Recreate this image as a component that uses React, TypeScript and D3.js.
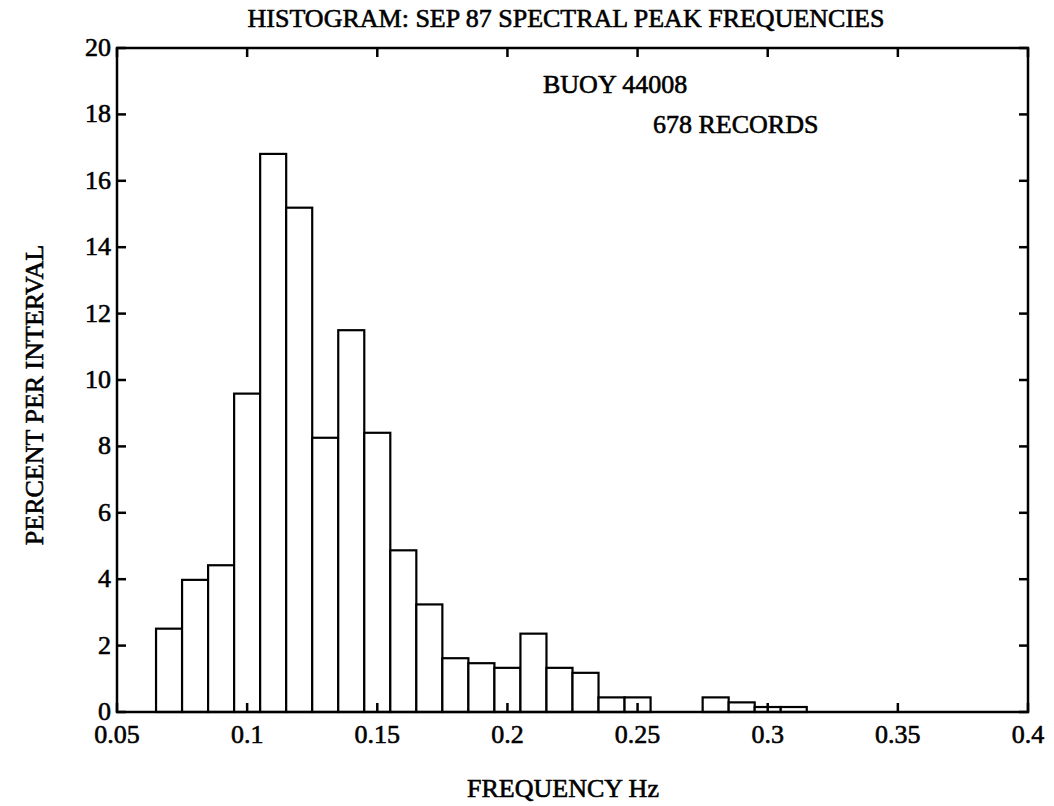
import { useEffect, useRef } from "react";
import * as d3 from "d3";

// bin centres (Hz), bins are 0.01 Hz wide
const binCenters = [
  0.07, 0.08, 0.09, 0.1, 0.11, 0.12, 0.13, 0.14, 0.15, 0.16, 0.17, 0.18, 0.19, 0.2, 0.21, 0.22,
  0.23, 0.24, 0.25, 0.26, 0.27, 0.28, 0.29, 0.3, 0.31,
];
// percent per interval
const percents = [
  2.51, 3.98, 4.42, 9.59, 16.81, 15.19, 8.26, 11.5, 8.41, 4.87, 3.24, 1.62, 1.47, 1.33, 2.36, 1.33,
  1.18, 0.44, 0.44, 0, 0, 0.44, 0.29, 0.15, 0.15,
];
const xTicks = [0.05, 0.1, 0.15, 0.2, 0.25, 0.3, 0.35, 0.4];
const xTickLabels = ["0.05", "0.1", "0.15", "0.2", "0.25", "0.3", "0.35", "0.4"];
const yTicks = [0, 2, 4, 6, 8, 10, 12, 14, 16, 18, 20];

const BIN_WIDTH = 0.01;

const App = () => {
  const svgRef = useRef<SVGSVGElement | null>(null);

  useEffect(() => {
    document.body.style.margin = "0";
    const width = 1054;
    const height = 806;
    const font = "'Liberation Serif', 'Times New Roman', serif";
    const fs = 26;
    const tickLen = 9;

    const svg = d3.select(svgRef.current).attr("width", width).attr("height", height);
    svg.selectAll("*").remove();

    const x = d3.scaleLinear().domain([0.05, 0.4]).range([117, 1028]);
    const y = d3.scaleLinear().domain([0, 20]).range([712, 48]);

    const [x0, x1] = x.range();
    const [yb, yt] = y.range();

    // bars
    const data = binCenters.map((c, i) => ({ c, v: percents[i] }));
    svg
      .append("g")
      .selectAll("rect")
      .data(data)
      .join("rect")
      .attr("x", (d) => x(d.c - BIN_WIDTH / 2))
      .attr("y", (d) => y(d.v))
      .attr("width", (d) => x(d.c + BIN_WIDTH / 2) - x(d.c - BIN_WIDTH / 2))
      .attr("height", (d) => y(0) - y(d.v))
      .attr("fill", "white")
      .attr("stroke", "black")
      .attr("stroke-width", 2.2);

    // frame
    svg
      .append("rect")
      .attr("x", x0)
      .attr("y", yt)
      .attr("width", x1 - x0)
      .attr("height", yb - yt)
      .attr("fill", "none")
      .attr("stroke", "black")
      .attr("stroke-width", 2.5);

    // inward ticks, all four sides
    const ticks = svg.append("g").attr("stroke", "black").attr("stroke-width", 2.5);
    xTicks.forEach((t) => {
      ticks.append("line").attr("x1", x(t)).attr("x2", x(t)).attr("y1", yb).attr("y2", yb - tickLen);
      ticks.append("line").attr("x1", x(t)).attr("x2", x(t)).attr("y1", yt).attr("y2", yt + tickLen);
    });
    yTicks.forEach((t) => {
      ticks.append("line").attr("x1", x0).attr("x2", x0 + tickLen).attr("y1", y(t)).attr("y2", y(t));
      ticks.append("line").attr("x1", x1).attr("x2", x1 - tickLen).attr("y1", y(t)).attr("y2", y(t));
    });

    // slight stroke to mimic the heavier printed type
    const text = (sx: number, sy: number, s: string, anchor = "start") =>
      svg
        .append("text")
        .attr("x", sx)
        .attr("y", sy)
        .attr("text-anchor", anchor)
        .attr("font-family", font)
        .attr("font-size", fs)
        .attr("fill", "black")
        .attr("stroke", "black")
        .attr("stroke-width", 0.6)
        .text(s);

    // tick labels
    xTicks.forEach((t, i) => text(x(t), 743, xTickLabels[i], "middle"));
    yTicks.forEach((t) => text(x0 - 6, y(t) + 8, String(t), "end"));

    // titles
    text(566, 27, "HISTOGRAM: SEP 87 SPECTRAL PEAK FREQUENCIES", "middle");
    text(563, 797, "FREQUENCY Hz", "middle");
    text(43, 395, "PERCENT PER INTERVAL", "middle").attr("transform", "rotate(-90, 43, 395)");

    // annotations
    text(543, 93, "BUOY 44008");
    text(653, 133, "678 RECORDS");
  }, []);

  return <svg ref={svgRef} />;
};

export default App;
